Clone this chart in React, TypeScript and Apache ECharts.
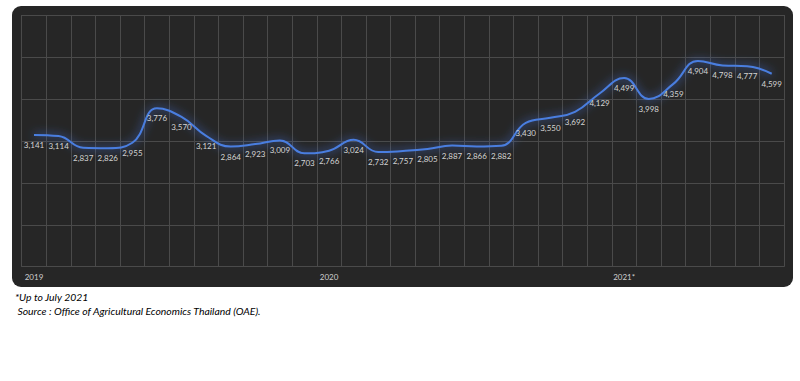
import React, { useEffect, useRef } from "react";
import * as echarts from "echarts";

const months: string[] = [
  "2019-01","2019-02","2019-03","2019-04","2019-05","2019-06","2019-07","2019-08","2019-09","2019-10","2019-11","2019-12",
  "2020-01","2020-02","2020-03","2020-04","2020-05","2020-06","2020-07","2020-08","2020-09","2020-10","2020-11","2020-12",
  "2021-01","2021-02","2021-03","2021-04","2021-05","2021-06","2021-07",
];
const values: number[] = [
  3141, 3114, 2837, 2826, 2955, 3776, 3570, 3121, 2864, 2923, 3009, 2703,
  2766, 3024, 2732, 2757, 2805, 2887, 2866, 2882, 3430, 3550, 3692, 4129,
  4499, 3998, 4359, 4904, 4798, 4777, 4599,
];
const yearLabels: Record<string, string> = { "2019-01": "2019", "2020-01": "2020", "2021-01": "2021*" };
const footnote = "*Up to July 2021";
const source = " Source : Office of Agricultural Economics Thailand (OAE).";

export default function App() {
  const ref = useRef<HTMLDivElement>(null);
  useEffect(() => {
    document.body.style.margin = "0";
    const chart = echarts.init(ref.current!, undefined, { renderer: "svg" });
    chart.setOption({
      animation: false,
      backgroundColor: "#ffffff",
      graphic: [
        {
          type: "rect",
          z: -10,
          shape: { x: 12, y: 6, width: 781, height: 281, r: 9 },
          style: { fill: "#262626" },
        },
        {
          type: "text",
          x: 15,
          y: 297,
          style: {
            text: footnote,
            fill: "#000000",
            font: "italic 10.4px Lato",
            verticalAlign: "middle",
          },
        },
        {
          type: "text",
          x: 15,
          y: 311,
          style: {
            text: source,
            fill: "#000000",
            font: "italic 10.4px Lato",
            verticalAlign: "middle",
          },
        },
      ],
      grid: { left: 21.7, right: 16, top: 15, bottom: 114.3, show: false },
      xAxis: {
        type: "category",
        data: months,
        boundaryGap: true,
        axisLine: { show: true, lineStyle: { color: "#4a4a4a", width: 1 } },
        axisTick: { show: false },
        splitLine: { show: true, interval: 0, lineStyle: { color: "#4a4a4a", width: 1 } },
        axisLabel: {
          interval: 0,
          formatter: (v: string) => yearLabels[v] || "",
          color: "#cfcfcf",
          fontSize: 8,
          fontFamily: "Lato",
          margin: 6,
        },
      },
      yAxis: {
        type: "value",
        min: 0,
        max: 6000,
        interval: 1000,
        axisLabel: { show: false },
        axisLine: { show: false },
        axisTick: { show: false },
        splitLine: { show: true, lineStyle: { color: "#4a4a4a", width: 1 } },
      },
      series: [
        {
          type: "line",
          data: values,
          smooth: 0.45,
          symbol: "circle",
          symbolSize: 1,
          showSymbol: true,
          itemStyle: { color: "rgba(0,0,0,0)" },
          lineStyle: {
            color: "#4a7ee0",
            width: 2,
            shadowColor: "rgba(70,120,235,1)",
            shadowBlur: 10,
          },
          label: {
            show: true,
            position: "bottom",
            distance: 5.5,
            color: "#d4d4d4",
            fontSize: 8,
            fontFamily: "Lato",
            formatter: (p: any) => p.value.toLocaleString("en-US"),
          },
        },
      ],
    });
    return () => chart.dispose();
  }, []);
  return <div ref={ref} style={{ width: 800, height: 381, position: "absolute", left: 0, top: 0 }} />;
}
